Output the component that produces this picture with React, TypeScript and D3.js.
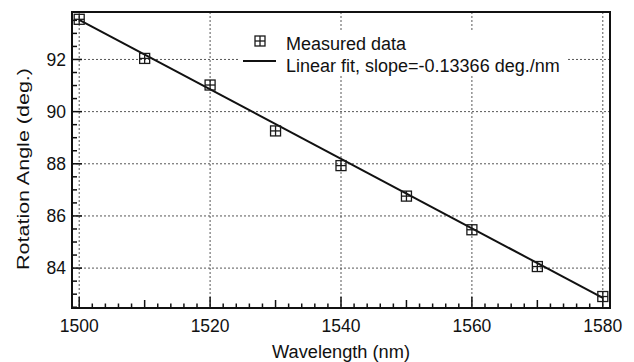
import React from "react";
import * as d3 from "d3";

const wavelengths = [1500, 1510, 1520, 1530, 1540, 1550, 1560, 1570, 1580];
const angles = [93.54, 92.04, 91.02, 89.26, 87.93, 86.76, 85.47, 84.06, 82.91];
const fitX = [1500, 1580];
const fitY = [93.52, 82.86];
const xTicks = [1500, 1520, 1540, 1560, 1580];
const yTicks = [84, 86, 88, 90, 92];
const legendLabels = ["Measured data", "Linear fit, slope=-0.13366 deg./nm"];

const W = 634;
const H = 362;
const frame = { left: 72, right: 610, top: 12, bottom: 308 };
const font = "'Liberation Sans', Arial, sans-serif";

function Marker({ x, y, s = 10 }: { x: number; y: number; s?: number }) {
  const h = s / 2;
  return (
    <g stroke="#1a1a1a" strokeWidth={1.3} fill="none">
      <rect x={x - h} y={y - h} width={s} height={s} />
      <line x1={x - h} x2={x + h} y1={y} y2={y} />
      <line x1={x} x2={x} y1={y - h} y2={y + h} />
    </g>
  );
}

export default function App() {
  const x = d3.scaleLinear().domain([1498.9, 1581.1]).range([frame.left, frame.right]);
  const y = d3.scaleLinear().domain([82.47, 93.82]).range([frame.bottom, frame.top]);

  const xMinor = d3.range(1500, 1581, 2);
  const yMinor = d3.range(82.5, 93.51, 0.5);

  const line = d3
    .line<number>()
    .x((d) => x(d))
    .y((_, i) => y(fitY[i]));

  return (
    <svg
      width={W}
      height={H}
      style={{ position: "absolute", left: 0, top: 0, background: "#fff" }}
      fontFamily={font}
    >
      <rect width={W} height={H} fill="#fff" />

      {/* grid */}
      <g stroke="#444" strokeWidth={0.9} strokeDasharray="2,2">
        {xTicks.map((t) => (
          <line key={"gx" + t} x1={x(t)} x2={x(t)} y1={frame.top} y2={frame.bottom} />
        ))}
        {yTicks.map((t) => (
          <line key={"gy" + t} x1={frame.left} x2={frame.right} y1={y(t)} y2={y(t)} />
        ))}
      </g>

      {/* legend background */}
      <rect x={239} y={30} width={327} height={45} fill="#fff" />

      {/* ticks */}
      <g stroke="#111" strokeWidth={1.5}>
        {xMinor.map((t) => {
          const len = t % 20 === 0 ? 11 : t % 10 === 0 ? 8 : 4.5;
          return <line key={"tx" + t} x1={x(t)} x2={x(t)} y1={frame.bottom} y2={frame.bottom - len} />;
        })}
        {yMinor.map((t) => {
          const len = t % 2 === 0 ? 10 : 5;
          return <line key={"ty" + t} x1={frame.left} x2={frame.left + len} y1={y(t)} y2={y(t)} />;
        })}
      </g>

      {/* fit line */}
      <path d={line(fitX) || ""} fill="none" stroke="#111" strokeWidth={2} />

      {/* data */}
      {wavelengths.map((w, i) => (
        <Marker key={w} x={x(w)} y={y(angles[i])} />
      ))}

      {/* frame */}
      <rect
        x={frame.left}
        y={frame.top}
        width={frame.right - frame.left}
        height={frame.bottom - frame.top}
        fill="none"
        stroke="#111"
        strokeWidth={2}
      />

      {/* tick labels */}
      <g fontSize={17.5} fill="#111">
        {xTicks.map((t) => (
          <text key={"lx" + t} x={x(t)} y={331.5} textAnchor="middle">
            {t}
          </text>
        ))}
        {yTicks.map((t) => (
          <text key={"ly" + t} x={66} y={y(t)} dy="0.35em" textAnchor="end">
            {t}
          </text>
        ))}
      </g>

      {/* axis titles */}
      <text
        x={341}
        y={357.5}
        textAnchor="middle"
        fontSize={18}
        fill="#111"
        textLength={138}
        lengthAdjust="spacingAndGlyphs"
      >
        Wavelength (nm)
      </text>
      <text
        transform="translate(29,169) rotate(-90)"
        textAnchor="middle"
        fontSize={16.5}
        fill="#111"
        textLength={202}
        lengthAdjust="spacingAndGlyphs"
      >
        Rotation Angle (deg.)
      </text>

      {/* legend */}
      <Marker x={260} y={41} />
      <line x1={243} x2={276} y1={61} y2={61} stroke="#111" strokeWidth={2} />
      <g fontSize={18} fill="#111">
        <text x={286} y={50}>
          {legendLabels[0]}
        </text>
        <text x={286} y={71.5}>
          {legendLabels[1]}
        </text>
      </g>
    </svg>
  );
}
